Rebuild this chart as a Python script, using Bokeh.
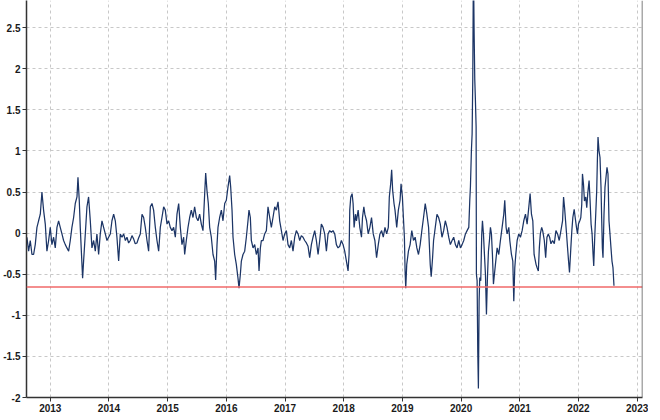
from bokeh.plotting import figure
from bokeh.models import FixedTicker, NumeralTickFormatter, Span, Range1d
from bokeh.embed import file_html
from bokeh.resources import INLINE

# (decimal year, value)
seg_2012_2015 = [
    (2012.602, -0.05), (2012.631, -0.22), (2012.659, -0.09), (2012.688, -0.26), (2012.716, -0.26),
    (2012.744, -0.14), (2012.773, 0.07), (2012.801, 0.15), (2012.830, 0.23), (2012.858, 0.50),
    (2012.886, 0.28), (2012.915, 0.11), (2012.943, -0.22), (2012.972, -0.09), (2013.000, 0.07),
    (2013.028, -0.14), (2013.057, -0.05), (2013.085, -0.18), (2013.114, 0.07), (2013.142, 0.15),
    (2013.170, 0.07), (2013.199, -0.01), (2013.227, -0.09), (2013.256, -0.14), (2013.284, -0.18),
    (2013.313, -0.22), (2013.341, -0.09), (2013.369, 0.07), (2013.398, 0.19), (2013.426, 0.36),
    (2013.455, 0.44), (2013.472, 0.68), (2013.494, 0.40), (2013.511, 0.07), (2013.540, -0.38),
    (2013.551, -0.55), (2013.568, -0.34), (2013.597, -0.01), (2013.625, 0.32), (2013.653, 0.44),
    (2013.682, 0.15), (2013.710, -0.18), (2013.739, -0.09), (2013.767, -0.22), (2013.795, -0.01),
    (2013.824, -0.26), (2013.852, -0.01), (2013.881, 0.15), (2013.909, 0.07), (2013.938, -0.01),
    (2013.966, -0.09), (2013.994, -0.05), (2014.023, -0.01), (2014.051, 0.15), (2014.080, 0.23),
    (2014.108, 0.15), (2014.136, -0.05), (2014.165, -0.34), (2014.193, -0.01), (2014.222, -0.05),
    (2014.250, -0.01), (2014.280, -0.09), (2014.307, -0.05), (2014.335, -0.12), (2014.364, -0.09),
    (2014.392, -0.03), (2014.420, -0.07), (2014.448, -0.13), (2014.477, -0.12), (2014.505, -0.06),
    (2014.534, -0.01), (2014.563, 0.23), (2014.591, 0.19), (2014.619, 0.07), (2014.648, -0.09),
    (2014.676, -0.22), (2014.705, 0.32), (2014.733, 0.36), (2014.761, 0.28), (2014.790, 0.07),
    (2014.818, -0.09), (2014.847, -0.22), (2014.875, 0.07), (2014.903, 0.19), (2014.932, 0.32),
    (2014.960, 0.28), (2014.989, 0.11), (2015.017, 0.15), (2015.045, 0.07), (2015.074, 0.03),
    (2015.102, 0.07), (2015.131, -0.05), (2015.159, 0.23), (2015.188, 0.36), (2015.216, 0.07),
    (2015.244, -0.14), (2015.273, -0.05),
]

seg_2015_2017 = [
    (2015.290, -0.26), (2015.318, -0.09), (2015.347, 0.07), (2015.375, 0.19), (2015.403, 0.28),
    (2015.432, 0.19), (2015.460, 0.32), (2015.489, 0.19), (2015.517, 0.15), (2015.545, 0.23),
    (2015.574, 0.11), (2015.602, 0.03), (2015.631, 0.48), (2015.648, 0.73), (2015.670, 0.52),
    (2015.693, 0.36), (2015.716, 0.07), (2015.744, -0.05), (2015.773, -0.26), (2015.801, -0.34),
    (2015.818, -0.57), (2015.841, -0.14), (2015.858, 0.07), (2015.886, 0.19), (2015.915, 0.28),
    (2015.943, 0.15), (2015.972, 0.36), (2016.000, 0.40), (2016.028, 0.56), (2016.057, 0.70),
    (2016.074, 0.56), (2016.097, 0.28), (2016.114, -0.05), (2016.142, -0.26), (2016.170, -0.38),
    (2016.199, -0.55), (2016.216, -0.67), (2016.239, -0.50), (2016.256, -0.34), (2016.284, -0.26),
    (2016.313, -0.22), (2016.341, -0.05), (2016.369, 0.15), (2016.386, 0.28), (2016.409, 0.19),
    (2016.426, -0.09), (2016.455, -0.18), (2016.483, -0.14), (2016.511, -0.26), (2016.540, -0.18),
    (2016.557, -0.46), (2016.580, -0.18), (2016.597, -0.09), (2016.625, -0.09), (2016.653, -0.01),
    (2016.682, 0.03), (2016.710, 0.32), (2016.739, 0.19), (2016.767, 0.07), (2016.795, 0.19),
    (2016.824, 0.32), (2016.852, 0.28), (2016.881, 0.38), (2016.909, 0.15), (2016.938, 0.03),
    (2016.966, -0.09), (2016.994, -0.01), (2017.023, 0.03), (2017.051, -0.14), (2017.080, -0.18),
    (2017.108, -0.09), (2017.136, -0.22), (2017.165, -0.05), (2017.193, 0.03), (2017.222, -0.01),
    (2017.250, -0.09), (2017.278, -0.03), (2017.307, -0.05), (2017.335, -0.09), (2017.364, -0.12),
    (2017.392, -0.16), (2017.420, -0.30), (2017.449, -0.14), (2017.477, -0.05), (2017.506, 0.03),
    (2017.534, -0.09), (2017.563, -0.26), (2017.591, -0.09), (2017.619, 0.11), (2017.648, 0.07),
    (2017.676, -0.01), (2017.705, -0.22), (2017.733, -0.01), (2017.761, 0.03), (2017.790, 0.01),
    (2017.818, 0.03), (2017.847, -0.01), (2017.875, -0.14), (2017.903, -0.18), (2017.932, -0.16),
]

seg_2018_2019 = [
    (2017.960, -0.09), (2017.989, -0.14), (2018.017, -0.22), (2018.046, -0.34), (2018.074, -0.46),
    (2018.091, -0.26), (2018.103, 0.28), (2018.120, 0.44), (2018.143, 0.48), (2018.160, 0.36),
    (2018.177, 0.07), (2018.200, 0.23), (2018.217, 0.15), (2018.246, 0.28), (2018.274, 0.07),
    (2018.303, -0.05), (2018.320, 0.19), (2018.343, 0.32), (2018.360, 0.23), (2018.389, 0.15),
    (2018.417, -0.01), (2018.446, 0.07), (2018.474, 0.19), (2018.503, -0.01), (2018.531, -0.09),
    (2018.560, -0.30), (2018.589, -0.14), (2018.617, -0.01), (2018.646, 0.03), (2018.674, -0.05),
    (2018.703, 0.07), (2018.731, -0.01), (2018.760, 0.07), (2018.777, 0.44), (2018.800, 0.60),
    (2018.817, 0.77), (2018.834, 0.52), (2018.857, 0.36), (2018.874, 0.28), (2018.903, 0.07),
    (2018.931, 0.28), (2018.960, 0.40), (2018.977, 0.60), (2019.000, 0.44), (2019.017, 0.19),
    (2019.034, -0.05), (2019.046, -0.46), (2019.057, -0.67), (2019.074, -0.38), (2019.103, -0.22),
    (2019.131, -0.14), (2019.160, 0.03), (2019.189, -0.09), (2019.217, -0.05), (2019.246, -0.18),
    (2019.274, -0.26), (2019.303, -0.14), (2019.331, 0.03), (2019.360, 0.19), (2019.389, 0.36),
    (2019.417, 0.23), (2019.446, 0.07), (2019.474, -0.38), (2019.491, -0.53), (2019.514, -0.30),
    (2019.531, -0.09), (2019.560, 0.07), (2019.589, 0.23), (2019.617, 0.19), (2019.646, 0.11),
    (2019.674, -0.05), (2019.703, 0.03), (2019.731, 0.15), (2019.760, 0.07), (2019.789, -0.05),
    (2019.817, -0.14), (2019.846, -0.09), (2019.874, -0.05), (2019.903, -0.14), (2019.931, -0.18),
    (2019.960, -0.09), (2019.989, -0.18), (2020.017, -0.14),
]

seg_2020_2021 = [
    (2020.045, -0.09), (2020.074, -0.01), (2020.102, 0.03), (2020.131, 0.07), (2020.148, 0.40),
    (2020.159, 0.56), (2020.176, 1.01), (2020.188, 1.21), (2020.199, 1.87), (2020.210, 3.30),
    (2020.222, 2.44), (2020.233, 1.87), (2020.244, 1.62), (2020.256, 1.29), (2020.261, -0.50),
    (2020.273, -0.58), (2020.284, -1.44), (2020.295, -1.89), (2020.307, -0.83), (2020.318, -0.54),
    (2020.335, -0.58), (2020.352, -0.01), (2020.364, 0.15), (2020.381, -0.01), (2020.398, -0.26),
    (2020.415, -0.50), (2020.432, -0.99), (2020.449, -0.54), (2020.466, -0.22), (2020.483, -0.09),
    (2020.500, 0.07), (2020.517, -0.01), (2020.534, -0.26), (2020.551, -0.62), (2020.568, -0.50),
    (2020.585, -0.38), (2020.614, -0.18), (2020.642, -0.26), (2020.670, -0.09), (2020.699, 0.07),
    (2020.727, 0.23), (2020.744, 0.40), (2020.767, 0.07), (2020.784, -0.01), (2020.813, 0.07),
    (2020.830, -0.09), (2020.858, -0.26), (2020.881, -0.34), (2020.898, -0.83), (2020.915, -0.42),
    (2020.932, -0.26), (2020.955, -0.09), (2020.983, -0.01), (2021.011, -0.05), (2021.040, 0.03),
    (2021.068, 0.15), (2021.097, 0.23), (2021.125, 0.11), (2021.153, 0.31), (2021.176, 0.48),
    (2021.199, 0.23), (2021.222, 0.15), (2021.244, -0.26),
]

seg_2021_2022 = [
    (2021.277, -0.38), (2021.294, -0.42), (2021.316, -0.46), (2021.333, -0.18), (2021.350, -0.01),
    (2021.373, 0.07), (2021.390, 0.03), (2021.418, -0.09), (2021.441, -0.30), (2021.463, -0.05),
    (2021.486, -0.01), (2021.508, -0.05), (2021.531, -0.13), (2021.559, -0.09), (2021.588, -0.13),
    (2021.616, 0.03), (2021.644, -0.01), (2021.672, -0.09), (2021.701, 0.03), (2021.729, 0.15),
    (2021.746, 0.44), (2021.763, 0.31), (2021.780, 0.15), (2021.797, -0.01), (2021.814, -0.18),
    (2021.831, -0.34), (2021.847, -0.48), (2021.870, -0.18), (2021.887, 0.03), (2021.904, 0.19),
    (2021.927, 0.29), (2021.944, 0.19), (2021.966, 0.07), (2021.983, -0.01), (2022.000, 0.11),
    (2022.023, 0.15), (2022.040, 0.19), (2022.056, 0.35), (2022.068, 0.72), (2022.085, 0.60),
    (2022.102, 0.39), (2022.124, 0.44), (2022.141, 0.31), (2022.158, 0.48), (2022.181, 0.64),
    (2022.198, 0.39), (2022.215, 0.11), (2022.232, -0.01), (2022.249, -0.26), (2022.260, -0.40),
    (2022.277, -0.05), (2022.294, 0.23), (2022.311, 0.52), (2022.322, 0.88), (2022.333, 1.17),
    (2022.350, 1.00), (2022.367, 0.92), (2022.384, 0.56), (2022.395, 0.19), (2022.407, -0.18),
    (2022.418, -0.30), (2022.435, 0.23), (2022.452, 0.56), (2022.469, 0.68), (2022.486, 0.80),
    (2022.503, 0.72), (2022.520, 0.15), (2022.537, -0.01), (2022.554, -0.18), (2022.571, -0.34),
    (2022.588, -0.42), (2022.605, -0.64),
]

threshold = -0.655
year_ticks = [2013, 2014, 2015, 2016, 2017, 2018, 2019, 2020, 2021, 2022, 2023]
value_ticks = [-2, -1.5, -1, -0.5, 0, 0.5, 1, 1.5, 2, 2.5]

segments = [seg_2012_2015, seg_2015_2017, seg_2018_2019, seg_2020_2021, seg_2021_2022]
years = [t for seg in segments for t, _ in seg]
values = [v for seg in segments for _, v in seg]

X0, X1 = 2012.595, 2023.091
p = figure(width=648, height=414, output_backend="svg", toolbar_location=None,
           x_range=Range1d(X0, X1), y_range=Range1d(-2, 2.83),
           min_border_top=0, min_border_left=0, min_border_right=6, min_border_bottom=0,
           outline_line_color=None, background_fill_color="white", border_fill_color="white")

p.line(years, values, line_color="#1c3566", line_width=1.25)
p.add_layout(Span(location=threshold, dimension="width", line_color="#f06868", line_width=1.6))
p.add_layout(Span(location=X1, dimension="height", line_color="#555555", line_width=1.5))

p.xaxis.ticker = FixedTicker(ticks=year_ticks)
p.xaxis.formatter = NumeralTickFormatter(format="0")
p.yaxis.ticker = FixedTicker(ticks=value_ticks)
p.yaxis.formatter = NumeralTickFormatter(format="0.[0]")

for ax in (p.xaxis, p.yaxis):
    ax.axis_line_color = "#333333"
    ax.axis_line_width = 1.5
    ax.major_tick_line_color = "#333333"
    ax.major_tick_out = 4
    ax.major_tick_in = 0
    ax.minor_tick_line_color = None
    ax.major_label_text_font = "Liberation Sans"
    ax.major_label_text_font_style = "bold"
    ax.major_label_text_font_size = "10px"
    ax.major_label_text_color = "#1a1a1a"
p.xaxis.major_label_standoff = 2
p.yaxis.major_label_standoff = 2

for g in (p.xgrid, p.ygrid):
    g.grid_line_color = "#c8c8c8"
    g.grid_line_dash = "3 3"
    g.grid_line_width = 1
p.xgrid.ticker = FixedTicker(ticks=year_ticks)
p.ygrid.ticker = FixedTicker(ticks=value_ticks)

open("out.html", "w").write(file_html(p, INLINE))
